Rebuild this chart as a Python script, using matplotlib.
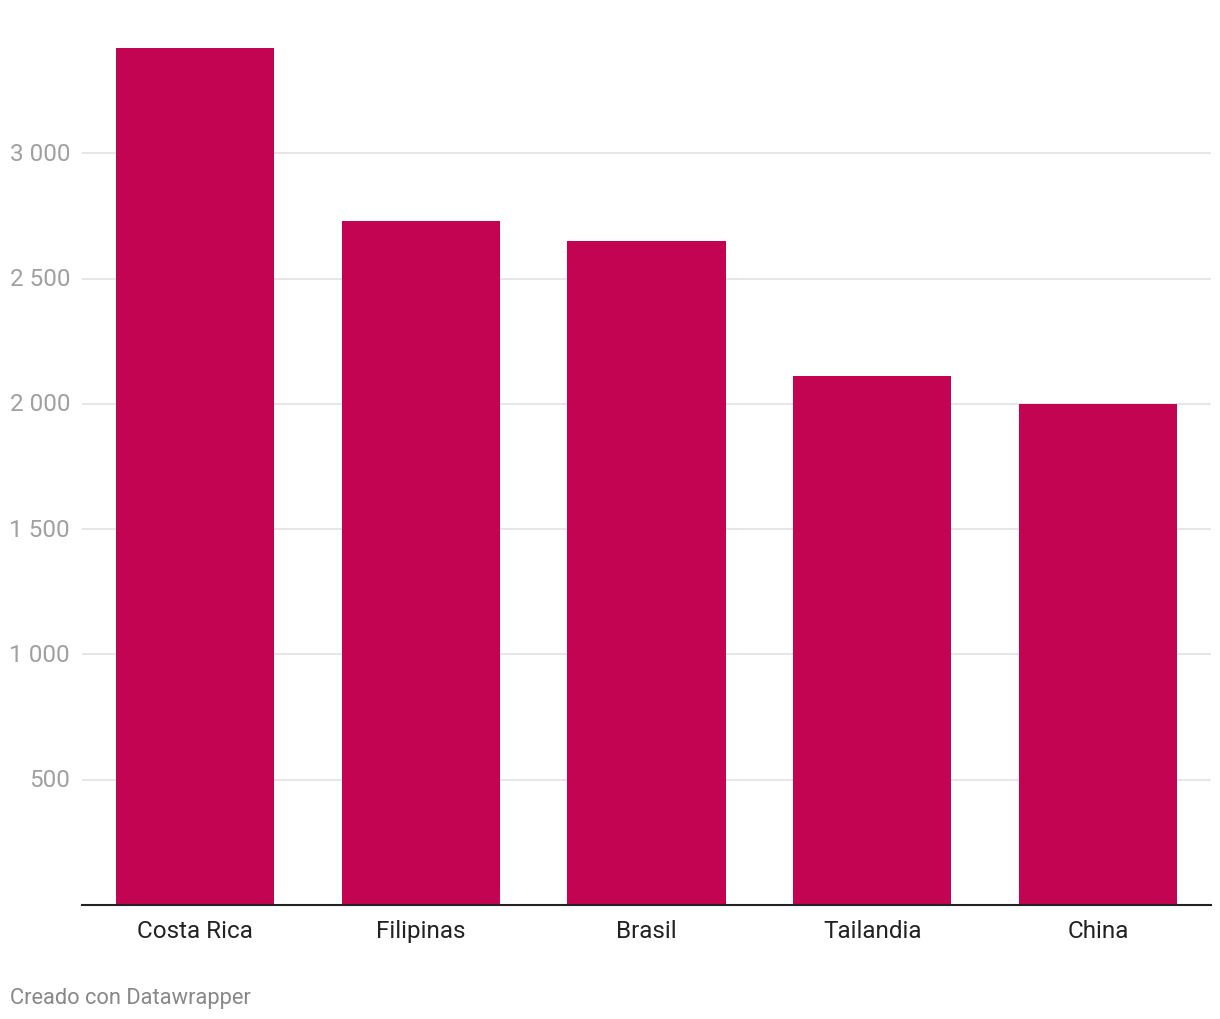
import numpy as np
import matplotlib.pyplot as plt

paises = ['Costa Rica', 'Filipinas', 'Brasil', 'Tailandia', 'China']
valores = [3420, 2730, 2650, 2110, 2000]
ticks_y = [500, 1000, 1500, 2000, 2500, 3000]
etiquetas_y = ['500', '1 000', '1 500', '2 000', '2 500', '3 000']

plt.rcParams['font.family'] = ['Roboto', 'DejaVu Sans']

fig = plt.figure(figsize=(12.2, 10.2), dpi=100)
W, H = 1220, 1020
ax = fig.add_axes([82 / W, 1 - 906 / H, (1211 - 82) / W, (906 - 49) / H])

x = np.arange(len(paises))
ax.bar(x, valores, width=0.70, color='#c20452', zorder=2)

ax.set_xlim(-0.5, len(paises) - 0.5)
ax.set_ylim(0, max(valores))

ax.set_yticks(ticks_y)
ax.set_yticklabels([])
for t, lab in zip(ticks_y, etiquetas_y):
    ax.text(70 / W, ax.transData.transform((0, t))[1] / H, lab,
            transform=fig.transFigure, ha='right', va='center',
            fontsize=17.5, color='#a0a0a0')
ax.grid(axis='y', color='#e2e2e2', linewidth=1.2, zorder=0)
ax.tick_params(axis='y', length=0)

ax.set_xticks(x)
ax.set_xticklabels(paises, fontsize=17.5, color='#222222')
ax.tick_params(axis='x', length=0, pad=10)

for s in ['top', 'right', 'left']:
    ax.spines[s].set_visible(False)
ax.spines['bottom'].set_color('#222222')
ax.spines['bottom'].set_linewidth(1.5)
ax.spines['bottom'].set_zorder(3)

fig.text(10 / W, 1 - 999 / H, 'Creado con Datawrapper', ha='left', va='center',
         fontsize=15.75, color='#888888')

fig.savefig('out.png', dpi=100)
